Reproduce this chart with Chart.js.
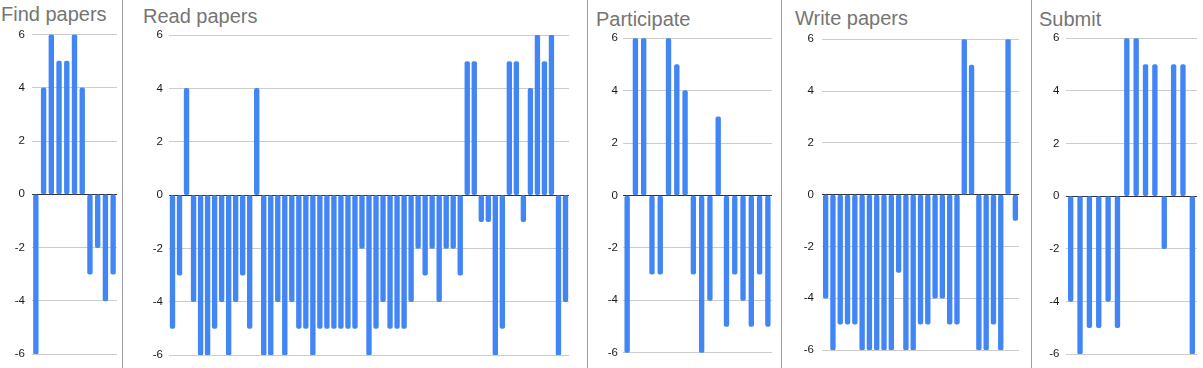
<!DOCTYPE html>
<html>
<head>
<meta charset="utf-8">
<script src="https://cdn.jsdelivr.net/npm/chart.js@4/dist/chart.umd.min.js"></script>
<style>
  html, body { margin:0; padding:0; background:#fff; }
  #wrap { position:relative; width:1203px; height:368px; overflow:hidden; }
  .panel { position:absolute; top:0; height:368px; }
  .title { position:absolute; font-family:Arial, "Liberation Sans", sans-serif; font-size:20px; color:#757575; white-space:nowrap; line-height:20px; }
  .sep { position:absolute; top:0; width:1px; height:368px; background:#9e9e9e; }
</style>
</head>
<body>
<div id="wrap"></div>
<script>
// valores, uno por barra
const titles = ['Find papers', 'Read papers', 'Participate', 'Write papers', 'Submit'];
const findPapers = [-6, 4, 6, 5, 5, 6, 4, -3, -2, -4, -3];
const readPapers = [-5, -3, 4, -4, -6, -6, -5, -4, -6, -4, -3, -5, 4, -6, -6, -4, -6, -4, -5, -5,
                    -6, -5, -5, -5, -5, -5, -5, -2, -6, -5, -4, -5, -5, -5, -4, -2, -3, -2, -4, -2,
                    -2, -3, 5, 5, -1, -1, -6, -5, 5, 5, -1, 4, 6, 5, 6, -6, -4];
const participate = [-6, 6, 6, -3, -3, 6, 5, 4, -3, -6, -4, 3, -5, -3, -4, -5, -3, -5];
const writePapers = [-4, -6, -5, -5, -5, -6, -6, -6, -6, -6, -3, -6, -6, -5, -5, -4, -4, -5, -5, 6,
                     5, -6, -6, -5, -6, 6, -1];
const submit = [-4, -6, -5, -5, -4, -5, 6, 6, 5, 5, -2, 5, 5, -6];
const yTicks = [-6, -4, -2, 0, 2, 4, 6];

// geometría de cada panel (px en la imagen)
const panels = [
  {data: findPapers,  labelRight: 25,   plotLeft: 32,  plotRight: 117,  top: 34.5, bottom: 356,  tx: 1,    ty: 4},
  {data: readPapers,  labelRight: 163,  plotLeft: 169, plotRight: 569,  top: 35,   bottom: 355.3, tx: 143, ty: 6},
  {data: participate, labelRight: 618,  plotLeft: 623, plotRight: 772,  top: 38.3, bottom: 352.7, tx: 596, ty: 9},
  {data: writePapers, labelRight: 814,  plotLeft: 822, plotRight: 1019, top: 39.3, bottom: 350,  tx: 795,  ty: 8},
  {data: submit,      labelRight: 1059.5, plotLeft: 1066, plotRight: 1197, top: 38.3, bottom: 354, tx: 1039, ty: 9}
];
const separators = [122, 587, 781, 1031];

const wrap = document.getElementById('wrap');
const axisW = 30;

separators.forEach(x=>{
  const s = document.createElement('div');
  s.className = 'sep'; s.style.left = x + 'px';
  wrap.appendChild(s);
});

panels.forEach((p, i)=>{
  const t = document.createElement('div');
  t.className = 'title';
  t.textContent = titles[i];
  t.style.left = p.tx + 'px'; t.style.top = p.ty + 'px';
  wrap.appendChild(t);

  const left = p.plotLeft - axisW;
  const width = p.plotRight - left + 2;
  const box = document.createElement('div');
  box.className = 'panel';
  box.style.left = left + 'px';
  box.style.width = width + 'px';
  const cv = document.createElement('canvas');
  box.appendChild(cv);
  wrap.appendChild(box);

  new Chart(cv, {
    type: 'bar',
    data: {
      labels: p.data.map((_, k)=> k + 1),
      datasets: [{
        data: p.data,
        backgroundColor: '#4285f4',
        barThickness: 4.7,
        borderRadius: 2,
        borderSkipped: false
      }]
    },
    options: {
      responsive: true,
      maintainAspectRatio: false,
      animation: false,
      layout: {padding: {top: p.top, bottom: 368 - p.bottom, left: 0, right: 2}},
      plugins: {legend: {display: false}, tooltip: {enabled: false}},
      scales: {
        x: {display: false, offset: true},
        y: {
          min: -6, max: 6,
          afterFit: s => { s.width = axisW; },
          afterBuildTicks: s => { s.ticks = yTicks.map(v => ({value: v})); },
          border: {display: false},
          grid: {
            drawTicks: false,
            lineWidth: 1,
            color: c => c.tick && c.tick.value === 0 ? '#333333' : '#cccccc'
          },
          ticks: {
            padding: p.plotLeft - p.labelRight,
            color: '#1a1a1a',
            font: {family: 'Arial, "Liberation Sans", sans-serif', size: 11.5}
          }
        }
      }
    }
  });
});
</script>
</body>
</html>
